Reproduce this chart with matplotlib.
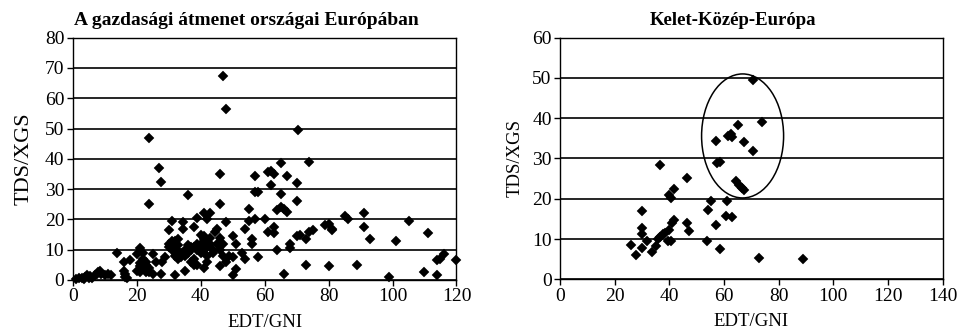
import matplotlib
matplotlib.use("Agg")
import matplotlib.pyplot as plt
from matplotlib.patches import Ellipse

# Transition economies of Europe: external debt / GNI vs. debt service / exports
all_x = [1, 2, 3, 3.5, 4, 4.5, 5, 5.5, 6, 7, 7.5, 8, 8.5, 9, 10, 11, 12,
         13.8, 16, 16, 16.5, 16.5, 17, 18,
         20, 21, 21, 22, 22, 23, 23, 24, 24, 24, 25, 25, 26, 27, 27.5, 27.5, 28, 29,
         20, 21, 22, 23, 23, 24, 22, 21,
         30, 30, 31, 31, 32, 32, 32, 33, 33, 34, 34.5, 34.5, 35, 35, 36, 37, 37, 38, 38,
         39, 39, 40, 40, 41, 41, 41, 42, 42, 43, 43, 44, 44.5, 45, 46, 46, 46, 46,
         47, 47, 47, 48, 48, 48, 49, 50, 50, 50, 51, 51,
         30, 31, 32, 33, 34, 35, 36, 36, 37, 38, 39, 40, 40, 41, 41, 42, 42, 43, 44,
         45, 46, 33, 38, 39, 42,
         53, 54, 54, 55, 55, 56, 56, 57, 57, 57, 58, 58, 60, 61, 61, 62, 62, 63, 63,
         63, 64, 64, 65, 65, 65, 66, 66, 67, 67, 68, 68, 70, 70, 70, 70.5, 71, 73, 73,
         74, 74, 75, 79, 80, 80, 81, 81, 85, 86, 89, 91, 91, 93, 99, 101, 105, 110,
         111, 114, 114, 115, 116, 120]
all_y = [0.3, 0.5, 0.8, 0.3, 1, 1.5, 0.5, 1.2, 0.8, 1.5, 2, 2.5, 3, 2, 1.5, 2, 1.5,
         9, 6, 3, 2, 1, 0.5, 6.5,
         8.5, 10.5, 2.5, 6, 4, 5, 3, 2.5, 47, 25, 2, 8.5, 6, 37, 32.5, 2, 6, 7.5,
         3, 4.5, 7, 6, 2.5, 4, 9, 5.5,
         16.5, 12, 19.5, 10, 1.5, 13, 8, 7, 11.5, 9, 19, 17, 3, 10, 28, 11, 6, 17.5, 5,
         12, 20.5, 9, 15, 22, 4, 13.5, 11, 20, 22, 12, 10, 16, 17, 25, 35, 14, 4.5,
         67.5, 12, 8, 56.5, 19, 6, 8, 1.5, 14.5, 7.5, 12, 3.5,
         11, 13, 11, 13.5, 7.5, 8, 11.5, 9, 10, 11, 10, 12, 11, 10, 14.5, 13, 8, 14, 9,
         12, 10, 9.5, 7, 5, 6,
         9, 7, 17, 23.5, 19.5, 12, 13.5, 34.5, 29, 20, 29, 7.5, 20, 16, 35.5, 31.5, 36,
         35, 15.5, 17.5, 10, 23, 24, 38.5, 28.5, 2, 23.5, 34.5, 22.5, 10.5, 12, 32, 26,
         14.5, 49.5, 15, 5, 13.5, 39, 16, 16.5, 18, 18.5, 4.5, 16.5, 17, 21, 20, 5, 22,
         17.5, 13.5, 1, 13, 19.5, 2.5, 15.5, 6.5, 1.5, 7, 8.5, 6.5]

# Central and Eastern Europe subset
cee_x = [26, 27.7, 30.1, 30.1, 30.1, 30.1, 31.7, 33.8, 35, 35.7, 36.6, 36.7, 37.8,
         38.4, 39.4, 39.9, 39.9, 40.6, 40.6, 40.9, 41.7, 41.6, 46.6, 46.6, 47.2, 53.7,
         54.1, 55.4, 57, 57, 57.6, 58.5, 58.5, 61, 60.7, 61.3, 62.4, 62.8, 63, 65, 64.4,
         65.6, 66.5, 67.4, 67.4, 70.7, 70.7, 74, 72.9, 88.8]
cee_y = [8.6, 6, 17, 12.8, 11.3, 7.7, 9.6, 6.7, 8.3, 9.9, 28.3, 10.6, 11.2, 11.4, 9.6,
         12.3, 21, 20.1, 9.4, 14.1, 22.5, 14.7, 25.1, 13.9, 12, 9.5, 17.3, 19.5, 34.4,
         13.5, 29, 29.1, 7.6, 19.4, 15.7, 35.6, 36, 35.3, 15.4, 38.3, 24.3, 23.4, 22.6,
         34.2, 22.2, 49.4, 31.9, 39, 5.2, 5]

SERIF = ["Liberation Serif", "DejaVu Serif"]
plt.rcParams["font.family"] = SERIF

fig = plt.figure(figsize=(9.6, 3.36), dpi=100)
ax1 = fig.add_axes([0.0757, 0.1667, 0.3998, 0.7211])
ax2 = fig.add_axes([0.5833, 0.1688, 0.3987, 0.7190])


def style(ax, xmax, xstep, ymax, ystep, title, yl_size, yl_pad, t_size):
    ax.set_xlim(0, xmax)
    ax.set_ylim(0, ymax)
    ax.set_xticks(range(0, xmax + 1, xstep))
    ax.set_yticks(range(0, ymax + 1, ystep))
    ax.grid(axis="y", color="black", lw=1.2)
    ax.set_axisbelow(True)
    for s in ax.spines.values():
        s.set_color("black")
        s.set_linewidth(1.0)
    ax.tick_params(direction="out", length=4, width=1, labelsize=14, pad=2)
    ax.set_xlabel("EDT/GNI", fontsize=13.5, labelpad=6)
    ax.set_ylabel("TDS/XGS", fontsize=yl_size, labelpad=yl_pad)
    # titles sit slightly left of the plot centre
    ax.set_title(title, fontsize=t_size, fontweight="bold", pad=9, x=0.452)


style(ax1, 120, 20, 80, 10, "A gazdasági átmenet országai Európában", 16, 8, 14)
style(ax2, 140, 20, 60, 10, "Kelet-Közép-Európa", 13.5, 6, 13.5)

ax1.plot(all_x, all_y, ls="none", marker="D", ms=5.4, color="black", mec="black",
         mew=0.3, clip_on=False, zorder=3)
ax2.plot(cee_x, cee_y, ls="none", marker="D", ms=5.4, color="black", mec="black",
         mew=0.3, clip_on=False, zorder=3)

# ring around the high debt-service group
ax2.add_patch(Ellipse((66.8, 35.6), 30, 30.8, fill=False, ec="black", lw=1.1, zorder=4))

fig.savefig("out.png", dpi=100, facecolor="white")
